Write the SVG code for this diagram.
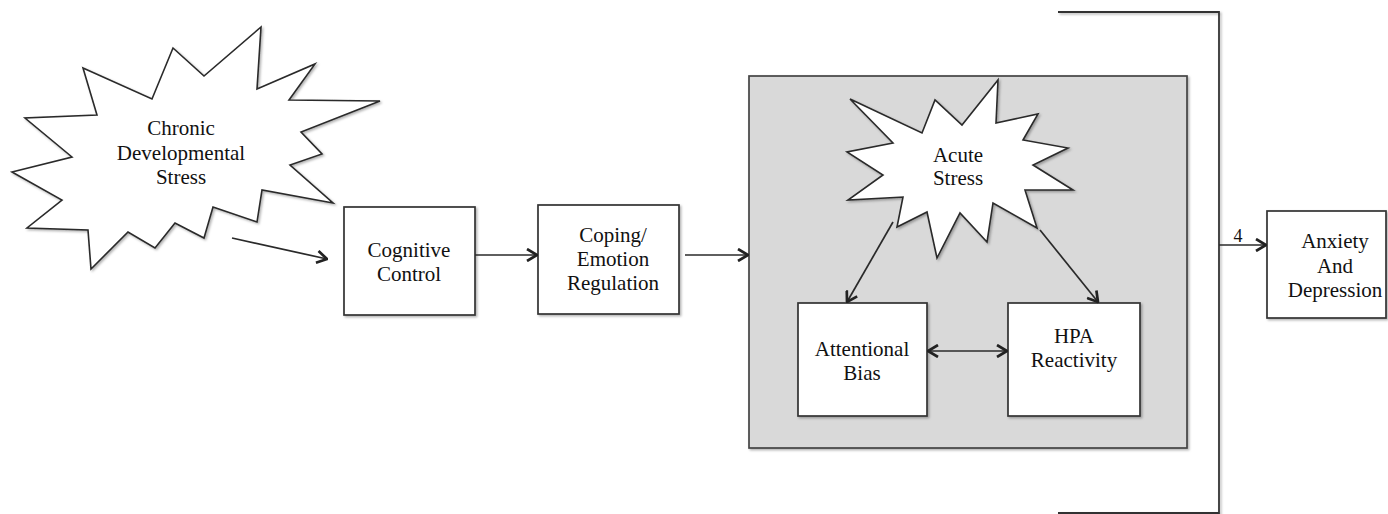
<svg xmlns="http://www.w3.org/2000/svg" width="1388" height="514" viewBox="0 0 1388 514">
  <defs>
    <style>
      .box{fill:#ffffff;stroke:#333333;stroke-width:1.7;filter:url(#sh)}
      .burst{fill:#ffffff;stroke:#2a2a2a;stroke-width:1.6;stroke-linejoin:miter;filter:url(#sh)}
      .panel{fill:#d9d9d9;stroke:#444444;stroke-width:1.7;filter:url(#sh)}
      .line{fill:none;stroke:#333333;stroke-width:1.8}
      .arrow{fill:none;stroke:#2a2a2a;stroke-width:1.7;marker-end:url(#ah)}
      .dbl{fill:none;stroke:#2a2a2a;stroke-width:1.7;marker-end:url(#ah);marker-start:url(#ah)}
      text{font-family:"Liberation Serif","Times New Roman",serif;font-size:21px;fill:#111111;text-anchor:middle}
      .lbl{font-size:18px}
    </style>
    <filter id="sh" x="-10%" y="-10%" width="120%" height="120%">
      <feDropShadow dx="1.5" dy="1.5" stdDeviation="1" flood-color="#000000" flood-opacity="0.3"/>
    </filter>
    <marker id="ah" viewBox="0 0 12 14" refX="11" refY="7" markerWidth="12" markerHeight="14" markerUnits="userSpaceOnUse" orient="auto-start-reverse">
      <path d="M1,1 L11,7 L1,13" fill="none" stroke="#222222" stroke-width="2.7"/>
    </marker>
  </defs>

  <g id="bracket">
    <polyline class="line" points="1058,12 1219,12 1219,513 1058,513" style="filter:url(#sh)"/>
  </g>

  <g id="chronic-stress">
    <polygon class="burst" points="83,68 152,99 173,48 204,76 261,27 257,89 315,64 289,100 380,101 301,132 322,154 290,165 333,203 262,190 257,222 213,207 204,238 175,223 155,248 128,232 91,269 88,230 27,228 62,200 12,172 72,157 25,118 97,115"/>
    <text x="181" y="135">Chronic</text>
    <text x="181" y="160">Developmental</text>
    <text x="181" y="184">Stress</text>
  </g>

  <g id="cognitive-control">
    <rect class="box" x="344" y="207" width="131" height="108"/>
    <text x="409" y="257">Cognitive</text>
    <text x="409" y="281">Control</text>
  </g>

  <g id="coping">
    <rect class="box" x="538" y="205" width="141" height="109"/>
    <text x="613" y="242">Coping/</text>
    <text x="613" y="266">Emotion</text>
    <text x="613" y="290">Regulation</text>
  </g>

  <g id="acute-panel">
    <rect class="panel" x="749" y="76" width="438" height="372"/>
  </g>

  <g id="acute-stress">
    <polygon class="burst" points="850,99 922,133 935,100 962,125 998,80 996,123 1038,114 1023,140 1068,148 1033,165 1073,190 1025,190 1037,228 993,203 987,242 960,213 937,258 927,212 897,227 903,197 848,200 883,175 847,152 893,143"/>
    <text x="958" y="162">Acute</text>
    <text x="958" y="185">Stress</text>
  </g>

  <g id="attentional-bias">
    <rect class="box" x="798" y="303" width="129" height="113"/>
    <text x="862" y="356">Attentional</text>
    <text x="862" y="380">Bias</text>
  </g>

  <g id="hpa-reactivity">
    <rect class="box" x="1008" y="303" width="132" height="113"/>
    <text x="1074" y="343">HPA</text>
    <text x="1074" y="367">Reactivity</text>
  </g>

  <g id="anxiety-depression">
    <rect class="box" x="1267" y="211" width="119" height="107"/>
    <text x="1335" y="248">Anxiety</text>
    <text x="1335" y="273">And</text>
    <text x="1335" y="297">Depression</text>
  </g>

  <g id="connectors">
    <line class="arrow" x1="232" y1="238" x2="327" y2="259"/>
    <line class="arrow" x1="475" y1="255" x2="537" y2="255"/>
    <line class="arrow" x1="685" y1="255" x2="748" y2="255"/>
    <line class="arrow" x1="893" y1="222" x2="847" y2="302"/>
    <line class="arrow" x1="1040" y1="230" x2="1098" y2="302"/>
    <line class="dbl" x1="928" y1="351" x2="1007" y2="351"/>
    <line class="arrow" x1="1219" y1="245" x2="1266" y2="245"/>
    <text class="lbl" x="1238" y="242">4</text>
  </g>
</svg>
